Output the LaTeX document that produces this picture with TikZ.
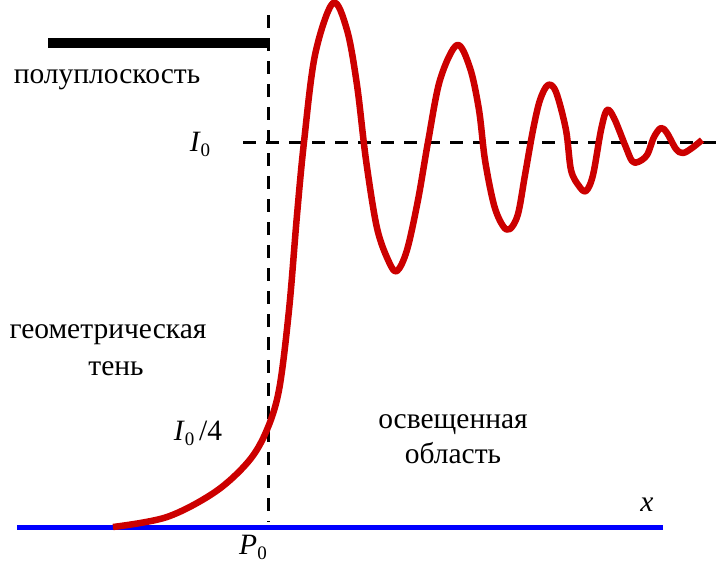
\documentclass[tikz,border=0pt]{standalone}
\usepackage{fontspec}
\setmainfont{Liberation Serif}
\newcommand{\subz}{\raisebox{-5pt}{\fontsize{19}{20}\selectfont 0}}
\begin{document}
\begin{tikzpicture}[x=1pt,y=-1pt,
  lbl/.style={anchor=base,inner sep=0pt,font=\fontsize{29.5}{33}\selectfont},
  guide/.style={line width=3pt,dash pattern=on 13pt off 10pt},
  curve/.style={line width=6.5pt,draw={rgb,255:red,204;green,0;blue,0},line join=round}]
\useasboundingbox (0,0) rectangle (718,562);
% half-plane screen
\coordinate (s1) at (48,43);
\coordinate (s2) at (269,43);
\draw[line width=10pt] (s1) -- (s2);
% guides
\coordinate (v1) at (268,15);
\coordinate (v2) at (268,522);
\draw[guide] (v1) -- (v2);
\coordinate (h1) at (243,142);
\coordinate (h2) at (718,142);
\draw[guide] (h1) -- (h2);
% axis
\coordinate (a1) at (17,527);
\coordinate (a2) at (663,527);
\draw[line width=5pt,draw={rgb,255:red,0;green,0;blue,255}] (a1) -- (a2);
% intensity curve
\draw[curve] plot[smooth,tension=0.55] coordinates {
(113,527) (167,517) (215,492) (248,462) (266,432) (279,390) (289,310)
(297,215) (304,142) (315,55) (333,3) (347,30) (357,85) (366,160)
(377,228) (389,262) (397,271) (407,250) (418,200) (428,142)
(440,80) (457,45) (470,68) (479,110) (485,160) (494,205) (503,226)
(510,229) (518,214) (525,175) (533,130) (540,100) (548,85) (556,92)
(566,130) (571,170) (579,186) (586,191) (593,175) (601,130) (607,110)
(614,118) (625,145) (632,161) (638,162) (647,155) (654,137) (661,128)
(667,133) (676,149) (683,153) (692,148) (702,140)};
% labels
\node[lbl] (tscreen) at (107,83) {полуплоскость};
\node[lbl] (tI0) at (200,151) {\textit{I}\subz};
\node[lbl] (tshadow) at (108,338) {геометрическая};
\node[lbl] (tshadow2) at (116,375) {тень};
\node[lbl] (tI4) at (198,440) {\textit{I}\subz\,/4};
\node[lbl] (tlit) at (453,428) {освещенная};
\node[lbl] (tlit2) at (453,463) {область};
\node[lbl] (tx) at (647,511) {\textit{x}};
\node[lbl] (tP0) at (253,554) {\textit{P}\subz};
\end{tikzpicture}
\end{document}
